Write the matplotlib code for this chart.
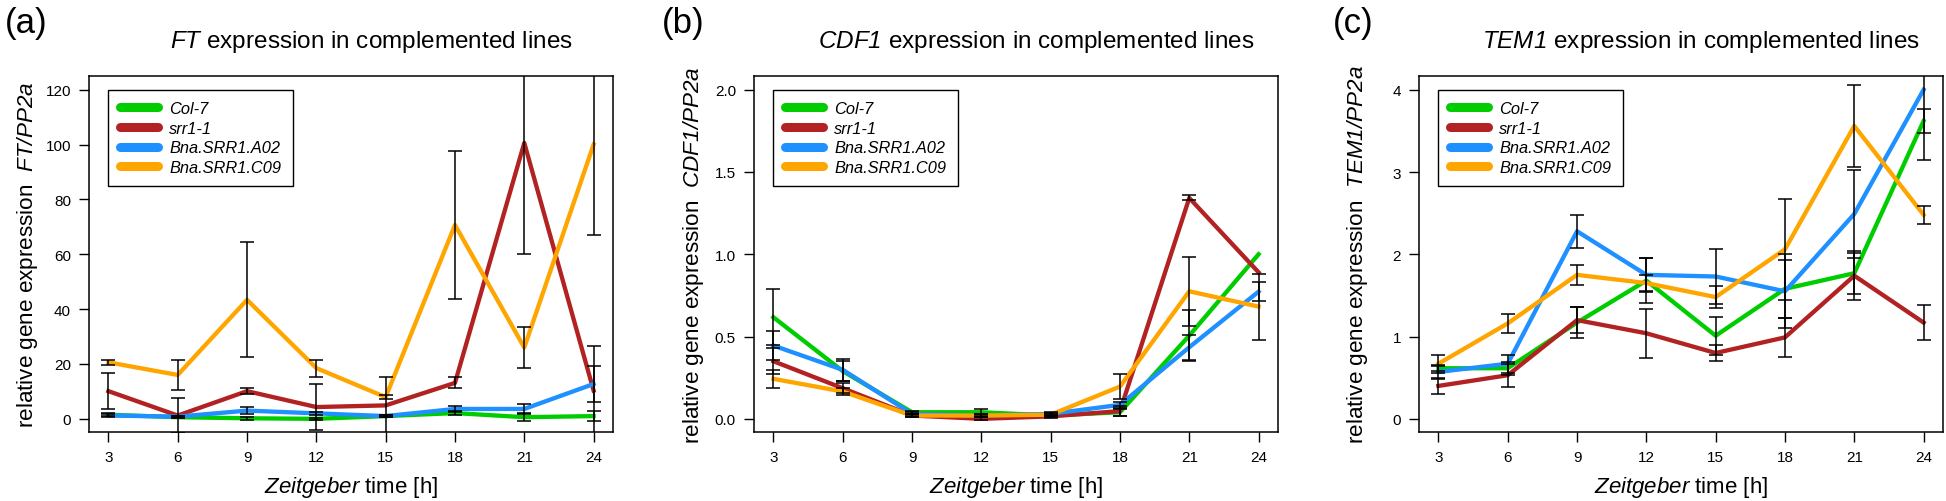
import numpy as np
import matplotlib
matplotlib.use("Agg")
import matplotlib.pyplot as plt
from matplotlib.lines import Line2D

plt.rcParams['font.family'] = ['Liberation Sans', 'DejaVu Sans']
plt.rcParams['mathtext.fontset'] = 'custom'
# everything inside $...$ is the italic gene names, digits included
plt.rcParams['mathtext.rm'] = 'Liberation Sans:italic'
plt.rcParams['mathtext.it'] = 'Liberation Sans:italic'

# Zeitgeber time points
time = [3, 6, 9, 12, 15, 18, 21, 24]
lines = ["Col-7", "srr1-1", "Bna.SRR1.A02", "Bna.SRR1.C09"]
colors = ["#00CD00", "#B22222", "#1E90FF", "#FFA500"]

# (a) FT / PP2a
ft_col7 = [1.5, 0.6, 0.2, 0.0, 1.0, 2.1, 0.6, 1.0]
ft_col7_se = [0.5, 0.4, 0.6, 0.3, 0.4, 0.6, 1.5, 1.8]
ft_srr1 = [10.1, 1.2, 10.1, 4.3, 4.9, 13.1, 100.6, 10.3]
ft_srr1_se = [6.5, 6.3, 1.0, 8.5, 10.3, 2.0, 40.6, 16.4]
ft_a02 = [1.2, 0.8, 3.0, 2.0, 1.0, 3.6, 3.6, 12.7]
ft_a02_se = [0.5, 0.4, 1.3, 0.6, 0.4, 1.0, 1.9, 6.4]
ft_c09 = [20.6, 16.0, 43.4, 18.5, 7.9, 70.7, 26.0, 100.0]
ft_c09_se = [1.0, 5.6, 21.0, 3.1, 0.8, 27.0, 7.5, 33.0]

# (b) CDF1 / PP2a
cdf_col7 = [0.617, 0.29, 0.04, 0.04, 0.02, 0.04, 0.506, 1.0]
cdf_col7_se = [0.17, 0.06, 0.01, 0.02, 0.01, 0.02, 0.155, 0.0]
cdf_srr1 = [0.35, 0.186, 0.02, 0.0, 0.015, 0.047, 1.342, 0.89]
cdf_srr1_se = [0.08, 0.03, 0.01, 0.01, 0.01, 0.03, 0.015, 0.0]
cdf_a02 = [0.445, 0.298, 0.03, 0.02, 0.03, 0.085, 0.435, 0.773]
cdf_a02_se = [0.09, 0.066, 0.01, 0.01, 0.01, 0.02, 0.075, 0.06]
cdf_c09 = [0.243, 0.166, 0.02, 0.02, 0.025, 0.196, 0.775, 0.682]
cdf_c09_se = [0.055, 0.02, 0.01, 0.01, 0.01, 0.077, 0.21, 0.2]

# (c) TEM1 / PP2a
tem_col7 = [0.615, 0.615, 1.17, 1.68, 1.01, 1.58, 1.77, 3.62]
tem_col7_se = [0.03, 0.08, 0.19, 0.27, 0.23, 0.35, 0.25, 0.15]
tem_srr1 = [0.40, 0.53, 1.20, 1.04, 0.80, 0.99, 1.74, 1.17]
tem_srr1_se = [0.10, 0.14, 0.16, 0.30, 0.10, 0.24, 0.30, 0.21]
tem_a02 = [0.57, 0.67, 2.28, 1.75, 1.73, 1.55, 2.49, 4.0]
tem_a02_se = [0.09, 0.11, 0.20, 0.21, 0.33, 0.45, 0.54, 0.85]
tem_c09 = [0.67, 1.16, 1.75, 1.65, 1.48, 2.06, 3.56, 2.48]
tem_c09_se = [0.11, 0.12, 0.12, 0.10, 0.13, 0.61, 0.50, 0.11]

panels = [
    ("(a)", "FT", [ft_col7, ft_srr1, ft_a02, ft_c09],
     [ft_col7_se, ft_srr1_se, ft_a02_se, ft_c09_se],
     (-4.8, 125), [0, 20, 40, 60, 80, 100, 120], ["0", "20", "40", "60", "80", "100", "120"]),
    ("(b)", "CDF1", [cdf_col7, cdf_srr1, cdf_a02, cdf_c09],
     [cdf_col7_se, cdf_srr1_se, cdf_a02_se, cdf_c09_se],
     (-0.08, 2.083), [0, 0.5, 1.0, 1.5, 2.0], ["0.0", "0.5", "1.0", "1.5", "2.0"]),
    ("(c)", "TEM1", [tem_col7, tem_srr1, tem_a02, tem_c09],
     [tem_col7_se, tem_srr1_se, tem_a02_se, tem_c09_se],
     (-0.16, 4.167), [0, 1, 2, 3, 4], ["0", "1", "2", "3", "4"]),
]

W, H = 1946, 502
fig = plt.figure(figsize=(W / 100, H / 100), dpi=100)
lefts = [89, 754, 1419]
ax_w, ax_top, ax_bot = 524, 77, 433
ax_h = ax_bot - ax_top
label_x = [26, 683, 1353]

for i, (tag, gene, series, errs, ylim, yt, ytl) in enumerate(panels):
    ax = fig.add_axes([lefts[i] / W, 1 - ax_bot / H, ax_w / W, ax_h / H])
    x = np.array(time)
    for vals, c in zip(series, colors):
        ax.plot(x, vals, color=c, lw=3.1, zorder=2)
    for vals, se in zip(series, errs):
        vals = np.array(vals)
        se = np.array(se)
        m = se > 0
        ax.errorbar(x[m], vals[m], yerr=se[m], fmt='none', ecolor='black',
                    elinewidth=1.1, capsize=5.2, capthick=1.1, zorder=3)
    ax.set_xlim(2.16, 24.84)
    ax.set_ylim(*ylim)
    ax.set_xticks(time)
    ax.set_yticks(yt)
    ax.set_yticklabels(ytl)
    ax.tick_params(direction='out', length=7, width=1, labelsize=11, pad=6)
    for s in ax.spines.values():
        s.set_linewidth(1.1)

    ax.text(0.5 + 20 / ax_w, 1 + (ax_top - 42) / ax_h,
            r"$" + gene + r"$ expression in complemented lines",
            transform=ax.transAxes, ha='center', va='center', fontsize=17.5)
    ax.text(-61 / ax_w, 0.5, r"relative gene expression  $" + gene + r"/PP2a$",
            transform=ax.transAxes, ha='center', va='center', rotation=90, fontsize=16.2)
    ax.text(0.5, -55 / ax_h, r"$Zeitgeber$ time [h]",
            transform=ax.transAxes, ha='center', va='center', fontsize=16)
    fig.text(label_x[i] / W, 1 - 23 / H, tag, ha='center', va='center', fontsize=25)

    handles = [Line2D([], [], color=c, lw=6.5, solid_capstyle='round') for c in colors]
    leg = ax.legend(handles, lines, loc='upper left', bbox_to_anchor=(3, yt[-1]),
                    bbox_transform=ax.transData, prop={'style': 'italic', 'size': 11.8},
                    fancybox=False, framealpha=1, edgecolor='black',
                    handlelength=2.3, handletextpad=0.7, labelspacing=0.28,
                    borderpad=0.7, borderaxespad=0)
    leg.get_frame().set_linewidth(1.0)

fig.savefig("out.png", dpi=100, facecolor='white')
